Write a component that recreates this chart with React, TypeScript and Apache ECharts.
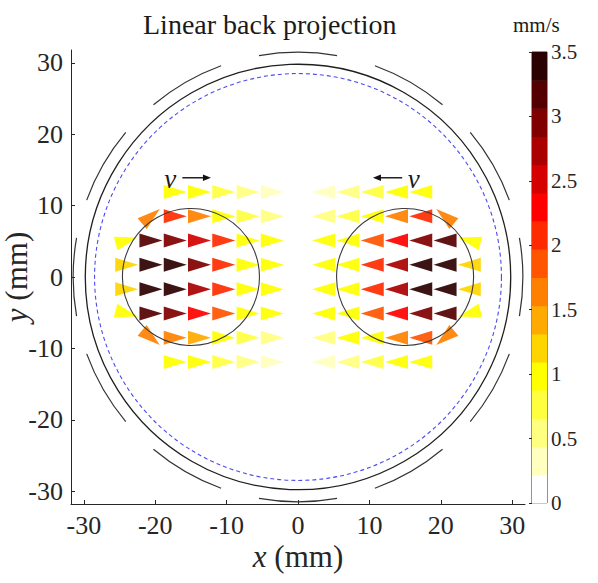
import React, { useEffect, useRef } from "react";
import * as echarts from "echarts";

// Axis ticks and extent (mm)
const xTicks = [-30, -20, -10, 0, 10, 20, 30];
const yTicks = [-30, -20, -10, 0, 10, 20, 30];
const axisExtent = 31.8;

// Colour scale (mm/s)
const speedMax = 3.5;
// flipped "hot" colormap, 16 levels: white at 0, near black at 3.5
const hotLevels = [
  "#ffffff", "#ffffbf", "#ffff80", "#ffff40", "#ffff00", "#ffd500", "#ffaa00", "#ff8000",
  "#ff5500", "#ff2b00", "#ff0000", "#d50000", "#aa0000", "#800000", "#550000", "#2b0000",
];

// Reconstructed velocity grid (mm, mm/s, degrees from +x)
const rows = [11.9, 8.5, 5.1, 1.7, -1.7, -5.1, -8.5, -11.9];
const leftCols = [-24.0, -20.6, -17.2, -13.8, -10.4, -7.0, -3.6];
const rightCols = [3.6, 7.0, 10.4, 13.8, 17.2, 20.6, 24.0];

const leftSpeed: (number | null)[][] = [
  [null, null, 1.0, 0.95, 0.7, 0.5, 0.4],
  [null, 1.6, 2.0, 1.6, 1.0, 0.8, 0.6],
  [1.0, 3.1, 3.0, 2.5, 2.0, 1.0, 0.9],
  [1.2, 3.4, 3.3, 2.9, 2.1, 1.0, 0.9],
  [1.2, 3.4, 3.35, 2.8, 2.1, 1.0, 0.9],
  [0.95, 3.1, 3.0, 2.4, 1.9, 1.0, 0.9],
  [null, 1.6, 1.7, 1.5, 1.0, 0.8, 0.6],
  [null, null, 1.0, 0.95, 0.7, 0.5, 0.4],
];
const leftAngle = [
  [0, 0, 0, 0, 0, 0, 0],
  [0, 40, 0, 0, 0, 0, 0],
  [15, 0, 0, 0, 0, 0, 0],
  [0, 0, 0, 0, 0, 0, 0],
  [0, 0, 0, 0, 0, 0, 0],
  [-15, 0, 0, 0, 0, 0, 0],
  [0, -40, 0, 0, 0, 0, 0],
  [0, 0, 0, 0, 0, 0, 0],
];

const rightSpeed: (number | null)[][] = [
  [0.4, 0.5, 0.75, 1.0, 1.0, null, null],
  [0.6, 0.8, 1.0, 1.6, 2.0, 1.6, null],
  [0.9, 1.0, 1.9, 2.4, 3.0, 3.1, 1.0],
  [0.9, 1.0, 2.0, 2.8, 3.4, 3.4, 1.3],
  [0.9, 1.0, 2.0, 2.8, 3.35, 3.4, 1.25],
  [0.9, 1.0, 1.9, 2.4, 3.0, 3.1, 1.0],
  [0.6, 0.9, 1.0, 1.6, 1.9, 1.6, null],
  [0.4, 0.5, 0.75, 1.0, 1.0, null, null],
];
const rightAngle = [
  [180, 180, 180, 180, 180, 180, 180],
  [180, 180, 180, 180, 180, 140, 180],
  [180, 180, 180, 180, 180, 180, 165],
  [180, 180, 180, 180, 180, 180, 180],
  [180, 180, 180, 180, 180, 180, 180],
  [180, 180, 180, 180, 180, 180, 195],
  [180, 180, 180, 180, 180, 220, 180],
  [180, 180, 180, 180, 180, 180, 180],
];

// Geometry: [cx, cy, r] in mm
const pipeWall = [[0, 0, 29.8]];
const imagingBoundary = [[0, 0, 28.5]];
const objects = [[-15, 0, 9.6], [15, 0, 9.6]];
// Electrode arcs: centre angles (degrees), half width (degrees), radius (mm)
const electrodeRadius = 31.5;
const electrodeCentres = [0, 30, 60, 90, 120, 150, 180, 210, 240, 270, 300, 330];
const electrodeHalfWidth = 10;

// Direction-of-motion markers: [x0, y0, x1, y1] and label anchors
const motionArrows = [[-16.2, 13.9, -12.2, 13.9], [14.6, 13.9, 10.5, 13.9]];
const motionLabels = [[-17.9, 13.7], [16.2, 13.7]];

const FONT = "Liberation Serif";
const INK = "#262626";

function speedColor(v: number) {
  const i = Math.min(hotLevels.length - 1, Math.max(0, Math.floor((v / speedMax) * hotLevels.length)));
  return hotLevels[i];
}

function gridArrows(cols: number[], speed: (number | null)[][], angle: number[][]) {
  const out: number[][] = [];
  rows.forEach((y, r) => {
    cols.forEach((x, c) => {
      const v = speed[r][c];
      if (v !== null) out.push([x, y, v, angle[r][c]]);
    });
  });
  return out;
}

export default function App() {
  const ref = useRef<HTMLDivElement>(null);

  useEffect(() => {
    if (!ref.current) return;
    const chart = echarts.init(ref.current, undefined, { renderer: "svg" });

    const arrowData = [
      ...gridArrows(leftCols, leftSpeed, leftAngle),
      ...gridArrows(rightCols, rightSpeed, rightAngle),
    ];

    const bins = hotLevels.map((_, i) => [
      (i * speedMax) / hotLevels.length,
      ((i + 1) * speedMax) / hotLevels.length,
      i,
    ]);

    const circleSeries = (data: number[][], style: any, z: number) => ({
      type: "custom",
      xAxisIndex: 0,
      yAxisIndex: 0,
      z,
      silent: true,
      clip: false,
      data,
      encode: { x: 0, y: 1 },
      renderItem: (_p: any, api: any) => {
        const c = api.coord([api.value(0), api.value(1)]);
        const r = api.size([api.value(2), 0])[0];
        return {
          type: "circle",
          shape: { cx: c[0], cy: c[1], r },
          style: { fill: "none", ...style },
        };
      },
    });

    const axisNameStyle = {
      fontFamily: FONT,
      fontSize: 31,
      color: INK,
      rich: { i: { fontFamily: FONT, fontSize: 31, fontStyle: "italic", color: INK } },
    };

    const option: any = {
      animation: false,
      backgroundColor: "#ffffff",
      title: [
        {
          text: "Linear back projection",
          left: 138,
          top: 5,
          textStyle: { fontFamily: FONT, fontSize: 28, fontWeight: "normal", color: "#1a1a1a" },
        },
        {
          text: "mm/s",
          left: 508,
          top: 9,
          textStyle: { fontFamily: FONT, fontSize: 21, fontWeight: "normal", color: "#1a1a1a" },
        },
      ],
      grid: [
        { left: 71, top: 50, width: 454, height: 454, outerBoundsMode: "none", containLabel: false },
        {
          left: 532,
          top: 52,
          width: 15,
          height: 451,
          show: true,
          borderColor: INK,
          borderWidth: 1,
          outerBoundsMode: "none",
          containLabel: false,
        },
      ],
      xAxis: [
        {
          type: "value",
          gridIndex: 0,
          min: -axisExtent,
          max: axisExtent,
          axisLine: { show: true, onZero: false, lineStyle: { color: INK, width: 1 } },
          axisTick: { show: true, inside: true, length: 4, customValues: xTicks, lineStyle: { color: INK } },
          axisLabel: { customValues: xTicks, fontFamily: FONT, fontSize: 26, color: INK, margin: 8 },
          splitLine: { show: false },
          name: "{i|x} (mm)",
          nameLocation: "middle",
          nameGap: 37,
          nameMoveOverlap: false,
          nameTextStyle: axisNameStyle,
        },
        { type: "value", gridIndex: 1, min: 0, max: 1, show: false },
      ],
      yAxis: [
        {
          type: "value",
          gridIndex: 0,
          min: -axisExtent,
          max: axisExtent,
          axisLine: { show: true, onZero: false, lineStyle: { color: INK, width: 1 } },
          axisTick: { show: true, inside: true, length: 4, customValues: yTicks, lineStyle: { color: INK } },
          axisLabel: { customValues: yTicks, fontFamily: FONT, fontSize: 26, color: INK, margin: 8 },
          splitLine: { show: false },
          name: "{i|y} (mm)",
          nameLocation: "middle",
          nameGap: 39,
          nameMoveOverlap: false,
          nameTextStyle: axisNameStyle,
        },
        {
          type: "value",
          gridIndex: 1,
          position: "right",
          min: 0,
          max: speedMax,
          interval: 0.5,
          axisLine: { show: false },
          axisTick: { show: true, inside: true, length: 3, lineStyle: { color: INK } },
          axisLabel: { fontFamily: FONT, fontSize: 21, color: INK, margin: 4 },
          splitLine: { show: false },
        },
      ],
      series: [
        // colour bar levels
        {
          type: "custom",
          xAxisIndex: 1,
          yAxisIndex: 1,
          silent: true,
          data: bins,
          encode: { y: [0, 1] },
          renderItem: (_p: any, api: any) => {
            const top = api.coord([0, api.value(1)]);
            const bottom = api.coord([1, api.value(0)]);
            return {
              type: "rect",
              shape: { x: top[0], y: top[1], width: bottom[0] - top[0], height: bottom[1] - top[1] + 0.5 },
              style: { fill: hotLevels[api.value(2)] },
            };
          },
        },
        // electrode arcs
        {
          type: "custom",
          xAxisIndex: 0,
          yAxisIndex: 0,
          silent: true,
          clip: false,
          z: 2,
          data: electrodeCentres.map((a) => [0, 0, a]),
          encode: { x: 0, y: 1 },
          renderItem: (_p: any, api: any) => {
            const c = api.coord([0, 0]);
            const r = api.size([electrodeRadius, 0])[0];
            const a = (api.value(2) * Math.PI) / 180;
            const h = (electrodeHalfWidth * Math.PI) / 180;
            return {
              type: "arc",
              shape: { cx: c[0], cy: c[1], r, startAngle: -a - h, endAngle: -a + h, clockwise: true },
              style: { fill: "none", stroke: "#333333", lineWidth: 1.2 },
            };
          },
        },
        circleSeries(pipeWall, { stroke: "#1f1f1f", lineWidth: 1.3 }, 2),
        circleSeries(imagingBoundary, { stroke: "#4b4bf0", lineWidth: 1.1, lineDash: [4, 3] }, 2),
        // velocity triangles
        {
          type: "custom",
          xAxisIndex: 0,
          yAxisIndex: 0,
          silent: true,
          z: 3,
          data: arrowData,
          encode: { x: 0, y: 1 },
          renderItem: (_p: any, api: any) => {
            const c = api.coord([api.value(0), api.value(1)]);
            const t = (api.value(3) * Math.PI) / 180;
            const dx = Math.cos(t);
            const dy = -Math.sin(t);
            const nx = -dy;
            const ny = dx;
            const L = 23;
            const W = 7;
            return {
              type: "polygon",
              shape: {
                points: [
                  [c[0] + (dx * L) / 2, c[1] + (dy * L) / 2],
                  [c[0] - (dx * L) / 2 + nx * W, c[1] - (dy * L) / 2 + ny * W],
                  [c[0] - (dx * L) / 2 - nx * W, c[1] - (dy * L) / 2 - ny * W],
                ],
              },
              style: { fill: speedColor(api.value(2)), opacity: 0.92 },
            };
          },
        },
        circleSeries(objects, { stroke: "#3a3a3a", lineWidth: 1.1 }, 4),
        // direction-of-motion arrows
        {
          type: "custom",
          xAxisIndex: 0,
          yAxisIndex: 0,
          silent: true,
          z: 5,
          data: motionArrows,
          encode: { x: [0, 2], y: [1, 3] },
          renderItem: (_p: any, api: any) => {
            const a = api.coord([api.value(0), api.value(1)]);
            const b = api.coord([api.value(2), api.value(3)]);
            const s = Math.sign(b[0] - a[0]);
            return {
              type: "group",
              children: [
                {
                  type: "line",
                  shape: { x1: a[0], y1: a[1], x2: b[0] - s * 5, y2: b[1] },
                  style: { stroke: "#111111", lineWidth: 1.4 },
                },
                {
                  type: "polygon",
                  shape: {
                    points: [
                      [b[0], b[1]],
                      [b[0] - s * 8, b[1] - 3.2],
                      [b[0] - s * 8, b[1] + 3.2],
                    ],
                  },
                  style: { fill: "#111111" },
                },
              ],
            };
          },
        },
        {
          type: "custom",
          xAxisIndex: 0,
          yAxisIndex: 0,
          silent: true,
          z: 5,
          data: motionLabels,
          encode: { x: 0, y: 1 },
          renderItem: (_p: any, api: any) => {
            const p = api.coord([api.value(0), api.value(1)]);
            return {
              type: "text",
              style: {
                x: p[0],
                y: p[1],
                text: "v",
                fontFamily: FONT,
                fontSize: 27,
                fontStyle: "italic",
                fill: "#1a1a1a",
                align: "center",
                verticalAlign: "middle",
              },
            };
          },
        },
      ],
    };

    chart.setOption(option);
    return () => chart.dispose();
  }, []);

  return (
    <div
      ref={ref}
      style={{ position: "fixed", left: 0, top: 0, width: 598, height: 583, background: "#ffffff" }}
    />
  );
}
